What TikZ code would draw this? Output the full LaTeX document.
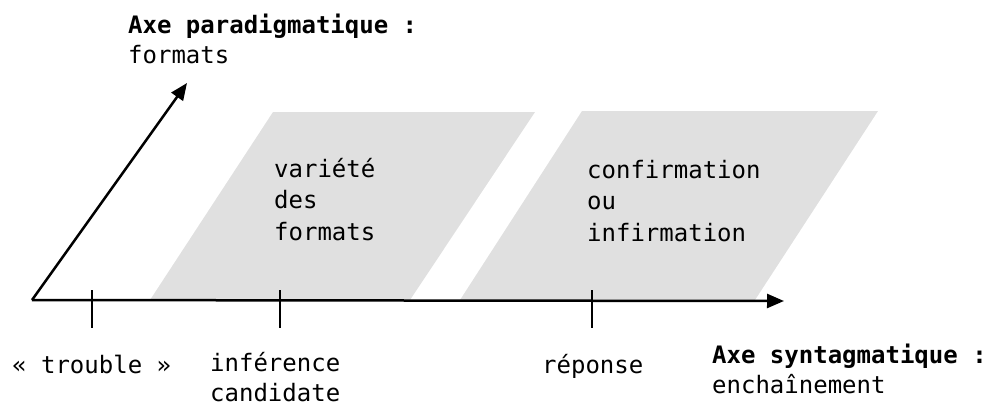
\documentclass[tikz,border=0pt]{standalone}
\usepackage{fontspec}
\setmonofont{DejaVu Sans Mono}
\usetikzlibrary{arrows.meta}
\definecolor{bandgray}{HTML}{E0E0E0}
\begin{document}
\begin{tikzpicture}[x=1pt,y=-1pt,
  lbl/.style={anchor=base west,inner sep=0pt,align=left,
    font=\ttfamily\fontsize{24}{31.5}\selectfont},
  bold/.style={lbl,font=\ttfamily\bfseries\fontsize{24}{30}\selectfont},
  axis/.style={line width=2.5pt,-{Triangle[length=17pt,width=14pt]}},
  tick/.style={line width=1.5pt},
  band/.style={fill=bandgray,draw=none}]
\useasboundingbox (0,0) rectangle (989,405);
% bands
\fill[band] (150,300) -- (273,112) -- (535,112) -- (410,300) -- cycle;
\fill[band] (460,300) -- (582,111) -- (878,111) -- (755,300) -- cycle;
% axes
\coordinate (O) at (32,300);
\coordinate (Y) at (187,83);
\coordinate (X) at (784,301);
\draw[axis] (O) -- (Y);
\draw[axis] (O) -- (X);
% ticks
\coordinate (t1a) at (92,290); \coordinate (t1b) at (92,328);
\coordinate (t2a) at (280,290); \coordinate (t2b) at (280,328);
\coordinate (t3a) at (592,290); \coordinate (t3b) at (592,328);
\draw[tick] (t1a) -- (t1b);
\draw[tick] (t2a) -- (t2b);
\draw[tick] (t3a) -- (t3b);
% labels (base anchor = baseline of last line)
\node[bold] (paraT) at (128,33) {Axe paradigmatique :};
\node[lbl] (paraS) at (128,63) {formats};
\node[lbl] (var) at (274,240) {variété\\des\\formats};
\node[lbl] (conf) at (587,241) {confirmation\\ou\\infirmation};
\node[lbl] (troub) at (12,373) {« trouble »};
\node[lbl,font=\ttfamily\fontsize{24}{30}\selectfont] (inf) at (210,401) {inférence\\candidate};
\node[lbl] (rep) at (542,373) {réponse};
\node[bold] (syntT) at (712,363) {Axe syntagmatique :};
\node[lbl] (syntS) at (712,393) {enchaînement};
\end{tikzpicture}
\end{document}
